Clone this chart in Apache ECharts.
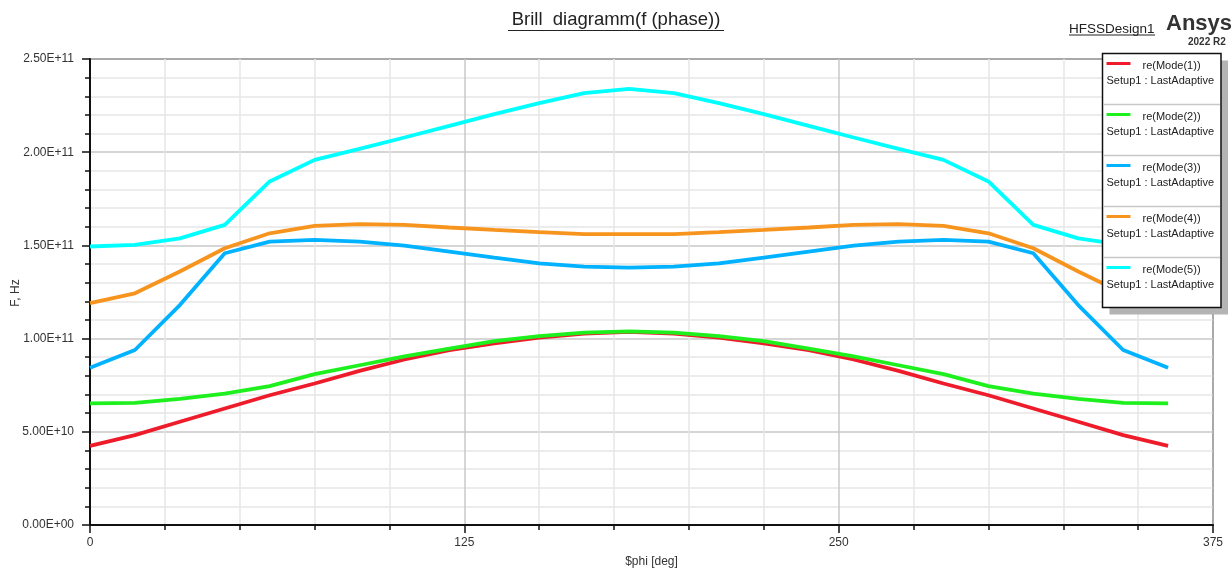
<!DOCTYPE html>
<html>
<head>
<meta charset="utf-8">
<script src="https://cdn.jsdelivr.net/npm/echarts@6/dist/echarts.min.js"></script>
<style>
html,body{margin:0;padding:0;background:#fff;}
#chart{width:1232px;height:569px;}
</style>
</head>
<body>
<div id="chart"></div>
<script>
// ---- data ----
const phi = [0, 15, 30, 45, 60, 75, 90, 105, 120, 135, 150, 165, 180, 195, 210, 225, 240, 255, 270, 285, 300, 315, 330, 345, 360];
const mode1 = [4.25e10, 4.82e10, 5.54e10, 6.25e10, 6.96e10, 7.59e10, 8.27e10, 8.88e10, 9.38e10, 9.75e10, 10.05e10, 10.27e10, 10.36e10, 10.27e10, 10.05e10, 9.75e10, 9.38e10, 8.88e10, 8.27e10, 7.59e10, 6.96e10, 6.25e10, 5.54e10, 4.82e10, 4.25e10];
const mode2 = [6.52e10, 6.55e10, 6.77e10, 7.05e10, 7.45e10, 8.09e10, 8.57e10, 9.05e10, 9.46e10, 9.86e10, 10.13e10, 10.32e10, 10.39e10, 10.32e10, 10.13e10, 9.86e10, 9.46e10, 9.05e10, 8.57e10, 8.09e10, 7.45e10, 7.05e10, 6.77e10, 6.55e10, 6.52e10];
const mode3 = [8.44e10, 9.39e10, 11.8e10, 14.58e10, 15.2e10, 15.3e10, 15.2e10, 14.99e10, 14.67e10, 14.35e10, 14.04e10, 13.86e10, 13.81e10, 13.86e10, 14.04e10, 14.35e10, 14.67e10, 14.99e10, 15.2e10, 15.3e10, 15.2e10, 14.58e10, 11.8e10, 9.39e10, 8.44e10];
const mode4 = [11.9e10, 12.43e10, 13.6e10, 14.85e10, 15.65e10, 16.05e10, 16.14e10, 16.1e10, 15.96e10, 15.83e10, 15.71e10, 15.6e10, 15.6e10, 15.6e10, 15.71e10, 15.83e10, 15.96e10, 16.1e10, 16.14e10, 16.05e10, 15.65e10, 14.85e10, 13.6e10, 12.43e10, 11.9e10];
const mode5 = [14.94e10, 15.03e10, 15.38e10, 16.1e10, 18.43e10, 19.59e10, 20.18e10, 20.79e10, 21.41e10, 22.04e10, 22.63e10, 23.17e10, 23.4e10, 23.17e10, 22.63e10, 22.04e10, 21.41e10, 20.79e10, 20.18e10, 19.59e10, 18.43e10, 16.1e10, 15.38e10, 15.03e10, 14.94e10];
const seriesNames = ['re(Mode(1))', 're(Mode(2))', 're(Mode(3))', 're(Mode(4))', 're(Mode(5))'];
const seriesSub = 'Setup1 : LastAdaptive';
const xTicks = [0, 125, 250, 375];
const yTicks = [0, 5e10, 1e11, 1.5e11, 2e11, 2.5e11];
const titleText = 'Brill  diagramm(f (phase))';
const xName = '$phi [deg]';
const yName = 'F, Hz';

// ---- styling ----
const colors = ['#ee1c2b', '#1ef01e', '#00b2ff', '#f7941e', '#00ffff'];
const FONT = '"Liberation Sans", Arial, sans-serif';
const allData = [mode1, mode2, mode3, mode4, mode5];

const chart = echarts.init(document.getElementById('chart'));

const series = allData.map((vals, i) => ({
  name: seriesNames[i],
  type: 'line',
  data: phi.map((p, k) => [p, vals[k]]),
  showSymbol: false,
  symbol: 'none',
  lineStyle: { color: colors[i], width: 3.8 },
  itemStyle: { color: colors[i] },
  z: 2 + i,
  animation: false
}));

// legend built as graphics
const L = { x: 1102.5, y: 53.5, w: 118.5, h: 254, rowH: 51 };
const legendEls = [];
legendEls.push({ type: 'rect', shape: { x: L.x + 7, y: L.y + 7, width: L.w, height: L.h }, style: { fill: '#b4b4b4' }, z: 100 });
legendEls.push({ type: 'rect', shape: { x: L.x, y: L.y, width: L.w, height: L.h }, style: { fill: '#fff', stroke: '#111', lineWidth: 1.5 }, z: 101 });
seriesNames.forEach((n, i) => {
  const top = L.y + i * L.rowH;
  if (i > 0) {
    legendEls.push({ type: 'line', shape: { x1: L.x + 1, y1: top, x2: L.x + L.w - 1, y2: top }, style: { stroke: '#c8c8c8', lineWidth: 1.5 }, z: 102 });
  }
  legendEls.push({ type: 'line', shape: { x1: L.x + 4, y1: top + 10, x2: L.x + 28, y2: top + 10 }, style: { stroke: colors[i], lineWidth: 3 }, z: 102 });
  legendEls.push({ type: 'text', style: { text: n, x: L.x + 40, y: top + 12, font: '11px ' + FONT, fill: '#222', textVerticalAlign: 'middle' }, z: 102 });
  legendEls.push({ type: 'text', style: { text: seriesSub, x: L.x + 4, y: top + 27, font: '11px ' + FONT, fill: '#222', textVerticalAlign: 'middle' }, z: 102 });
});

const option = {
  backgroundColor: '#fff',
  animation: false,
  grid: { left: 90, right: 19, top: 59, bottom: 44, containLabel: false, outerBoundsMode: 'none', show: true, borderColor: '#111', borderWidth: 1.5, backgroundColor: 'transparent' },
  xAxis: {
    type: 'value', min: 0, max: 375, interval: 125,
    name: xName, nameLocation: 'middle', nameGap: 31,
    nameTextStyle: { fontFamily: FONT, fontSize: 12, color: '#333' },
    axisLine: { show: true, lineStyle: { color: '#111', width: 2 } },
    axisTick: { show: true, inside: false, length: 8, lineStyle: { color: '#111', width: 1.5 } },
    minorTick: { show: true, splitNumber: 5, length: 5, lineStyle: { color: '#111', width: 1.5 } },
    axisLabel: { fontFamily: FONT, fontSize: 12, color: '#333', margin: 12, showMinLabel: true, showMaxLabel: true },
    splitLine: { show: true, lineStyle: { color: '#c8c8c8', width: 1.5 } },
    minorSplitLine: { show: true, lineStyle: { color: '#e6e6e6', width: 1.5 } }
  },
  yAxis: {
    type: 'value', min: 0, max: 2.5e11, interval: 5e10,
    axisLine: { show: true, lineStyle: { color: '#111', width: 2 } },
    axisTick: { show: true, inside: false, length: 8, lineStyle: { color: '#111', width: 1.5 } },
    minorTick: { show: true, splitNumber: 5, length: 5, lineStyle: { color: '#111', width: 1.5 } },
    axisLabel: {
      fontFamily: FONT, fontSize: 12, color: '#333', margin: 16,
      formatter: v => v.toExponential(2).toUpperCase().replace(/E([+-])(\d)$/, 'E$10$2')
    },
    splitLine: { show: true, lineStyle: { color: '#c8c8c8', width: 1.5 } },
    minorSplitLine: { show: true, lineStyle: { color: '#e6e6e6', width: 1.5 } }
  },
  series: series,
  graphic: [
    { type: 'text', style: { text: titleText, x: 616, y: 20, font: '18.5px ' + FONT, fill: '#222', textAlign: 'center', textVerticalAlign: 'middle' }, z: 50 },
    { type: 'line', shape: { x1: 508, y1: 30.5, x2: 724, y2: 30.5 }, style: { stroke: '#222', lineWidth: 1 }, z: 50 },
    { type: 'text', x: 16, y: 293, rotation: Math.PI / 2, style: { text: yName, x: 0, y: 0, font: '12px ' + FONT, fill: '#333', textAlign: 'center', textVerticalAlign: 'middle' }, z: 50 },
    { type: 'text', style: { text: 'HFSSDesign1', x: 1069, y: 29.5, font: '13.5px ' + FONT, fill: '#222', textVerticalAlign: 'middle' }, z: 50 },
    { type: 'line', shape: { x1: 1069, y1: 35, x2: 1155, y2: 35 }, style: { stroke: '#222', lineWidth: 1 }, z: 50 },
    { type: 'text', style: { text: 'Ansys', x: 1166, y: 24, font: 'bold 22px ' + FONT, fill: '#333', textVerticalAlign: 'middle' }, z: 50 },
    { type: 'text', style: { text: '2022 R2', x: 1188, y: 42.5, font: 'bold 10px ' + FONT, fill: '#333', textVerticalAlign: 'middle' }, z: 50 }
  ].concat(legendEls)
};
chart.setOption(option);
</script>
</body>
</html>
